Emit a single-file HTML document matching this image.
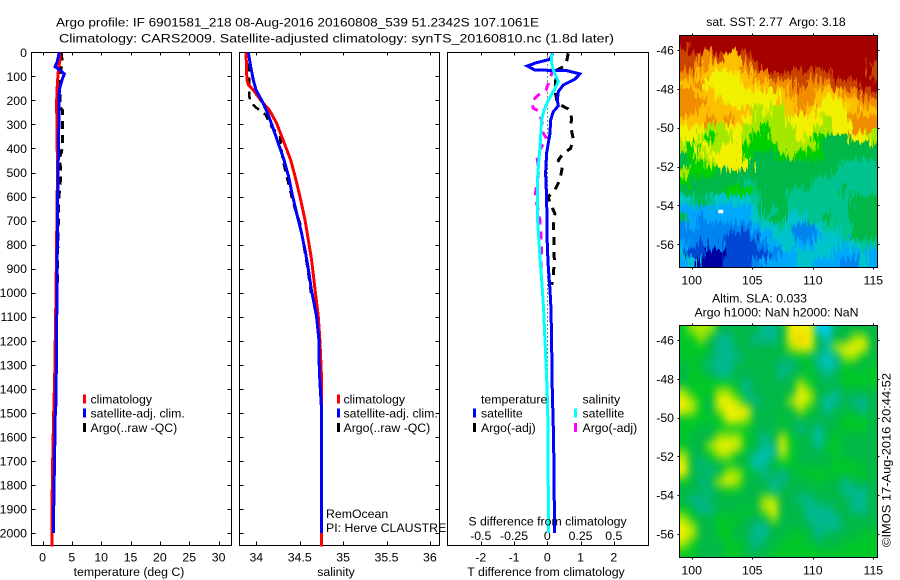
<!DOCTYPE html>
<html lang="en">
<head>
<meta charset="utf-8">
<title>Argo profile</title>
<style>
html,body{margin:0;padding:0;background:#fff;width:900px;height:580px;overflow:hidden}
svg{display:block}
text{font-family:"Liberation Sans",sans-serif;font-size:12.3px;fill:#000}
</style>
</head>
<body>
<svg id="fig" width="900" height="580" viewBox="0 0 900 580" xmlns="http://www.w3.org/2000/svg">
<defs>
<filter id="jag" x="-10%" y="-10%" width="120%" height="120%" color-interpolation-filters="sRGB">
<feTurbulence type="fractalNoise" baseFrequency="0.4 0.05" numOctaves="2" seed="4" result="n"/>
<feDisplacementMap in="SourceGraphic" in2="n" scale="22" xChannelSelector="R" yChannelSelector="G"/>
</filter>
<filter id="soft" x="-10%" y="-10%" width="120%" height="120%" color-interpolation-filters="sRGB">
<feGaussianBlur stdDeviation="4 5"/>
</filter>
<clipPath id="clipA"><rect x="679" y="35" width="198" height="232"/></clipPath>
<clipPath id="clipB"><rect x="679" y="325" width="198" height="233"/></clipPath>
</defs>
</svg>
<script>
// ---- chart data ----
const depthTicks = [0,100,200,300,400,500,600,700,800,900,1000,1100,1200,1300,1400,1500,1600,1700,1800,1900,2000];
const tempTicks = [0,5,10,15,20,25,30];
const salTicks = [34,34.5,35,35.5,36];
const salTickLabels = ['34','34.5','35','35.5','36'];
const tdiffTicks = [-2,-1,0,1,2];
const sdiffTicks = [-0.5,-0.25,0,0.25,0.5];
const sdiffTickLabels = ['-0.5','-0.25','0','0.25','0.5'];
const lonTicks = [100,105,110,115];
const latTicks = [-46,-48,-50,-52,-54,-56];

const climTempDepth = [0,32,60,87,157,200,235,490,1000,1350,1500,1700,1890,2056];
const climTempVal = [2.98,2.98,2.78,2.66,2.47,2.42,2.42,2.55,2.3,2.08,1.9,1.73,1.62,1.62];
const satTempDepth = [0,39,60,69,90,115,157,337,614,975,1320,1460,1500,1700,1900,2000];
const satTempVal = [2.87,2.5,2.13,2.7,3.72,3.32,2.87,2.76,2.58,2.47,2.35,2.3,2.18,2.05,1.9,1.84];
const argoTempDepth = [0,30,50,100,150,230,240,400,440,490,520,600,800,1000];
const argoTempVal = [3.2,3.3,3.3,2.9,3.0,3.0,3.38,3.38,2.9,3.1,3.1,2.8,2.6,2.5];

const climSalDepth = [0,115,136,157,199,240,295,378,448,531,614,697,780,864,986,1100,1200,1370,2056];
const climSalVal = [33.881,33.892,33.91,33.965,34.05,34.15,34.234,34.323,34.396,34.457,34.511,34.561,34.599,34.637,34.676,34.714,34.733,34.753,34.749];
const satSalDepth = [0,60,115,157,199,254,310,378,448,517,587,670,753,835,919,986,1100,1200,1320,1400,1470,2000];
const satSalVal = [33.908,33.935,33.965,33.996,34.061,34.131,34.188,34.253,34.319,34.372,34.411,34.465,34.522,34.568,34.607,34.634,34.695,34.722,34.726,34.737,34.749,34.752];
const argoSalDepth = [46,185,205,226,240,260,310,350,448,600,642,711,780,891,1000];
const argoSalVal = [33.92,33.92,33.935,33.985,34.035,34.108,34.175,34.273,34.304,34.407,34.438,34.503,34.534,34.588,34.63];

const satTdiffDepth = [4,29,43,57,74,75,76,90,112,136,164,199,223,247,282,337,420,503,601,711,808,892,989,1069,1200,1412,1605,2000];
const satTdiffVal = [0.16,0.08,-0.32,-0.60,-0.37,0.08,0.58,0.98,0.83,0.48,0.33,0.30,0.33,0.18,0.10,0.08,-0.02,-0.05,-0.02,-0.01,0,0.03,0.08,0.11,0.13,0.15,0.19,0.22];
const argoTdiffDepth = [4,39,60,74,157,212,236,246,275,309,358,400,420,449,473,531,573,601,629,670,725,781,864,933,968];
const argoTdiffVal = [0.63,0.58,0.48,0.28,0.23,0.30,0.63,0.68,0.73,0.70,0.78,0.70,0.48,0.33,0.46,0.38,0.23,0.03,0.08,0.23,0.18,0.20,0.21,0.18,0.13];
const satSdiffDepth = [4,46,74,122,150,199,240,282,393,476,545,698,808,905,1002,1069,1350,1480,2000];
const satSdiffVal = [0.033,0.033,0.045,0.083,0.058,0.008,-0.025,-0.043,-0.055,-0.068,-0.075,-0.073,-0.06,-0.048,-0.035,-0.028,-0.005,0.003,0.01];
const argoSdiffDepth = [67,90,157,178,205,233,243,282,337,358,393,427,490,601,670,753,822,905,1002];
const argoSdiffVal = [0.033,0.033,-0.01,-0.068,-0.118,-0.105,-0.068,-0.043,-0.03,-0.005,-0.043,-0.08,-0.063,-0.093,-0.06,-0.048,-0.043,-0.048,-0.035];

const sstLevels = [
"DDDDDDDDDDDDDDDDDDDDDD",
"RDDDDDDDDDDDDDDDDDDDDD",
"RROORAARDDDDDDDDDDDDDD",
"RROAAAAORDDDDDDDDDDDDR",
"OOAYYYYAOORRRRRRRDDDDR",
"AAOYYYYAAAOOOROOORRRDD",
"OOAAYYYYYYYAOOOAAAOORR",
"OOOAAYYYYYYAAOOAYYAAOO",
"OOAAAAAALYLLAOAYYYYAAA",
"AAAOAOAYLLLLYYYYLYYOOO",
"YYYLLYYLLGLLLYYLLYYOOO",
"YYLGLLYLGGLLLYLGgggYYL",
"LGYLLYYGGGGLLLLGgggggg",
"gGLYYYYGgggGLGGGgggggg",
"gGGLYYYYggggggggggTTTT",
"LGGGgggggggggggggTTTTT",
"GggggggTgggggggTTTTTTT",
"gggggGGGTgggTTTTTTgTTT",
"CTgTCCCCTgggTTTTTTTggg",
"SSSSSSSSCgTgTTTTTTTggg",
"gSBSSSSSCTggCCTTgTTggg",
"BSBBBBBBSCCTCBBCTTTggg",
"BBBBBNNNBSCCCBBSCCTggg",
"SBNBBNNNNBSCCSSCCCSCTT",
"CNNVVNNNNNBSSCCCCSSSCS",
"SCVVVNNNBSSSSCCSSSBBCS"
];
const slaLevels = [
"GLLLgggggTTgYYYSSggggg",
"GGLgTTggTTTgYAYgCggLLg",
"GGGgTTggggggLYYgTLYYYg",
"GGGgTTTggggggGgTCTLLGg",
"gGgTTTgggggTTgGTCTGggG",
"gGGgTTgggggTggGgTgGGGG",
"gGGGGGgTgggggLGgggGGGG",
"LGGGLLGTgggggYLggTgggg",
"YLGgYYLgTgggLYLgCTgTTg",
"YLGgLYYYgggggLGgTgggTg",
"GGGGGYYLgggGggggggGGGg",
"GGggGGGGgggggTgTggGGGg",
"GgggLLLGgTgLGggCgGgggg",
"GggLYYYGgTTYGggTGGgggg",
"LggGLLGgTCTLGggggGgggg",
"YgTggGggCTgGGggggGGGgg",
"YggTgLLGgTgTgGGGGGGGGg",
"GgTgLYLgggTTgggGggTggg",
"gggTgGGgggTgggggggTTTg",
"gTTggggggLLggTTggggTTg",
"GgTTgggGgLYgggTTTggTTg",
"LGggGGGgggLgggTTTTgggg",
"YLggGGggTTgggggTTTgggg",
"YLggGGggTTggGGgTggggGG",
"LGgggGGgTggGGGGgggGGGG",
"GGgggGGgggGGGGGGGGGGGG"
];
const profileLon = [102.4];
const profileLat = [-54.3];

// ---- colour keys ----
const sstColors = {D:'#a40000',R:'#c84400',O:'#f08c00',A:'#fcc000',Y:'#f0f000',L:'#a4e800',G:'#00d000',g:'#00b848',T:'#00c490',C:'#00c4cc',S:'#00a8fc',B:'#0084f0',N:'#0048d4',V:'#0000a0'};
const slaColors = {g:'#00b848',G:'#00c828',T:'#00b890',C:'#00c4c0',S:'#00c8f0',L:'#a4e800',Y:'#f0f000',A:'#f8c800'};

// ---- axis functions ----
const depthY = d => 52.3 + 0.2404 * d;
const tempX = t => 42.5 + 5.87 * t;
const salX = s => 256.3 + 86.8 * (s - 34);
const tdiffX = t => 547.3 + 33.25 * t;
const sdiffX = s => 547.3 + 133 * s;
const mapX = lon => 691.7 + 12.11 * (lon - 100);
const latYA = lat => 50 - 19.43 * (lat + 46);
const latYB = lat => 340 - 19.4 * (lat + 46);

const root = document.getElementById('fig');
const NS = 'http://www.w3.org/2000/svg';
function make(tag, attrs, parent){
  const el = document.createElementNS(NS, tag);
  for (const k in attrs) el.setAttribute(k, attrs[k]);
  (parent || root).appendChild(el);
  return el;
}
function label(str, x, y, anchor, parent){
  const el = make('text', {x:x, y:y + 4.5, 'text-anchor':anchor || 'start'}, parent);
  el.textContent = str;
  return el;
}
function seg(x1,y1,x2,y2,parent){
  return make('line',{x1:x1,y1:y1,x2:x2,y2:y2,stroke:'#000','stroke-width':1,'shape-rendering':'crispEdges'},parent);
}
function series(depths, vals, xf, color, width, dash, parent){
  const pts = depths.map((d,i)=>xf(vals[i]).toFixed(1)+','+depthY(d).toFixed(1)).join(' ');
  const attrs = {points:pts, fill:'none', stroke:color, 'stroke-width':width, 'stroke-linejoin':'miter', 'shape-rendering':'crispEdges'};
  if (dash) attrs['stroke-dasharray'] = dash;
  return make('polyline', attrs, parent);
}
function legendMark(x, y, color, parent){
  return make('rect',{x:x,y:y-4.5,width:3,height:9,fill:color},parent);
}

const T = 52.5, B = 545.5;

function frame(x0, x1, parent){
  const box = make('rect',{x:x0,y:T,width:x1-x0,height:B-T,fill:'none',stroke:'#000','stroke-width':1,'shape-rendering':'crispEdges'},parent);
  
  
}

// ---- panel 1: temperature ----
const p1 = make('g',{});


frame(31.5,231.5,p1);
depthTicks.forEach(d=>{
  const y = Math.round(depthY(d))+0.5;
  const a = seg(31.5,y,35.5,y,p1);
  
  
  const b = seg(227.5,y,231.5,y,p1);
  
  
  const t = label(String(d),27,depthY(d),'end',p1);
  
  
});
tempTicks.forEach(v=>{
  const x = Math.round(tempX(v))+0.5;
  const a = seg(x,B,x,B-4,p1);
  
  
  const b = seg(x,T,x,T+3,p1);
  
  
  const t = label(String(v),tempX(v),557,'middle',p1);
  
  
});
const s1a = series(argoTempDepth,argoTempVal,tempX,'#000',3,'8 6',p1);


const s1b = series(climTempDepth,climTempVal,tempX,'#f00',3,null,p1);


const s1c = series(satTempDepth,satTempVal,tempX,'#00f',3,null,p1);


const x1 = label('temperature (deg C)',129,571.5,'middle',p1);



// ---- panel 2: salinity ----
const p2 = make('g',{});


frame(239.5,439.5,p2);
depthTicks.forEach(d=>{
  const y = Math.round(depthY(d))+0.5;
  const a = seg(239.5,y,243.5,y,p2);
  
  
  const b = seg(435.5,y,439.5,y,p2);
  
  
});
salTicks.forEach((v,i)=>{
  const x = Math.round(salX(v))+0.5;
  const a = seg(x,B,x,B-4,p2);
  
  
  const b = seg(x,T,x,T+3,p2);
  
  
  const t = label(salTickLabels[i],salX(v),557,'middle',p2);
  
  
});
const s2a = series(argoSalDepth,argoSalVal,salX,'#000',2.5,'8 6',p2);


const s2b = series(climSalDepth,climSalVal,salX,'#f00',3,null,p2);


const s2c = series(satSalDepth,satSalVal,salX,'#00f',3,null,p2);


const x2 = label('salinity',336,571.5,'middle',p2);



// ---- panel 3: differences ----
const p3 = make('g',{});


frame(447.5,648.5,p3);
tdiffTicks.forEach(v=>{
  const x = Math.round(tdiffX(v))+0.5;
  const a = seg(x,B,x,B-4,p3);
  
  
  const t = label(String(v),tdiffX(v),557,'middle',p3);
  
  
});
sdiffTicks.forEach((v,i)=>{
  const x = Math.round(sdiffX(v))+0.5;
  const b = seg(x,T,x,T+3,p3);
  
  
  const t = label(sdiffTickLabels[i],sdiffX(v),535.5,'middle',p3);
  
  
});
const zero = make('line',{x1:tdiffX(0)+0.2,y1:T,x2:tdiffX(0)+0.2,y2:depthY(2000),stroke:'#000','stroke-width':1,'stroke-dasharray':'1 3','shape-rendering':'crispEdges'},p3);


const s3a = series(argoTdiffDepth,argoTdiffVal,tdiffX,'#000',3,'8 7',p3);


const s3b = series(argoSdiffDepth,argoSdiffVal,sdiffX,'#f0f',3,'8 7',p3);


const s3c = series(satTdiffDepth,satTdiffVal,tdiffX,'#00f',3,null,p3);


const s3d = series(satSdiffDepth,satSdiffVal,sdiffX,'#0ff',3,null,p3);


const sTitle = label('S difference from climatology',547.5,521,'middle',p3);


const tTitle = label('T difference from climatology',546,571.5,'middle',p3);



// ---- maps ----
function heatmap(levels, colors, x0, y0, w, h, parent, cellName){
  const nr = levels.length, nc = levels[0].length;
  const cw = w / nc, ch = h / nr;
  levels.forEach((row,r)=>{
    for (let c=0;c<nc;c++){
      let x = x0 + c*cw, y = y0 + r*ch, ww = cw + 0.6, hh = ch + 0.6;
      if (c===0){ x -= 24; ww += 24; }
      if (c===nc-1){ ww += 24; }
      if (r===0){ y -= 24; hh += 24; }
      if (r===nr-1){ hh += 24; }
      const cell = make('rect',{x:x.toFixed(2),y:y.toFixed(2),width:ww.toFixed(2),height:hh.toFixed(2),fill:colors[row[c]]},parent);
      
      
    }
  });
}
function mapAxes(parent, x0, y0, x1, y1, latY, labelY){
  const box = make('rect',{x:x0,y:y0,width:x1-x0,height:y1-y0,fill:'none',stroke:'#000','stroke-width':1,'shape-rendering':'crispEdges'},parent);
  
  
  lonTicks.forEach(v=>{
    const x = Math.round(mapX(v))+0.5;
    const a = seg(x,y1,x,y1+2,parent);
    
    
    const b = seg(x,y0,x,y0-2,parent);
    
    
    const t = label(String(v),mapX(v),labelY,'middle',parent);
    
    
  });
  latTicks.forEach(v=>{
    const y = Math.round(latY(v))+0.5;
    const a = seg(x0,y,x0-2,y,parent);
    
    
    const b = seg(x1,y,x1+2,y,parent);
    
    
    const t = label(String(v),674,latY(v),'end',parent);
    
    
  });
}

const mapA = make('g',{});


const clipA = make('g',{'clip-path':'url(#clipA)'},mapA);
const fieldA = make('g',{filter:'url(#jag)'},clipA);
heatmap(sstLevels,sstColors,679,35,198,232,fieldA,'sst-cell');
profileLon.forEach((lon,i)=>{
  const m = make('rect',{x:mapX(lon)-2.5,y:latYA(profileLat[i])-1.5,width:5,height:3.5,fill:'#fff'},clipA);
  
  
});
mapAxes(mapA,679.5,35.5,877.5,267.5,latYA,280);
const tA = label('sat. SST: 2.77  Argo: 3.18',776,21.5,'middle',mapA);


tA.style.whiteSpace = 'pre';

const mapB = make('g',{});


const clipB = make('g',{'clip-path':'url(#clipB)'},mapB);
const fieldB = make('g',{filter:'url(#soft)'},clipB);
heatmap(slaLevels,slaColors,679,325,198,233,fieldB,'sla-cell');
mapAxes(mapB,679.5,325.5,877.5,557.5,latYB,570);
const tB1 = label('Altim. SLA: 0.033',759.5,298,'middle',mapB);


const tB2 = label('Argo h1000: NaN h2000: NaN',776.5,312,'middle',mapB);



// ---- legends ----
function legendRow(x, tx, y, color, str, parent){
  if (color){
    const m = legendMark(x,y,color,parent);
    
    
  }
  const t = label(str,tx,y,'start',parent);
  
  
}
const lg1 = make('g',{});


legendRow(83,90.5,399,'#f00','climatology',lg1);
legendRow(83,90.5,413,'#00f','satellite-adj. clim.',lg1);
legendRow(83,90.5,427.5,'#000','Argo(..raw -QC)',lg1);
const lg2 = make('g',{});


legendRow(337,343.5,399,'#f00','climatology',lg2);
legendRow(337,343.5,413,'#00f','satellite-adj. clim.',lg2);
legendRow(337,343.5,427.5,'#000','Argo(..raw -QC)',lg2);
const lg3 = make('g',{});


legendRow(473,481,399,null,'temperature',lg3);
legendRow(473,481,413,'#00f','satellite',lg3);
legendRow(473,481,427.5,'#000','Argo(-adj)',lg3);
legendRow(574,582.5,399,null,'salinity',lg3);
legendRow(574,582.5,413,'#0ff','satellite',lg3);
legendRow(574,582.5,427.5,'#f0f','Argo(-adj)',lg3);

// ---- annotations ----
const t1 = label('Argo profile: IF 6901581_218 08-Aug-2016 20160808_539 51.2342S 107.1061E',56,22,'start');


t1.setAttribute('textLength','483');
t1.setAttribute('lengthAdjust','spacingAndGlyphs');
const t2 = label('Climatology: CARS2009. Satellite-adjusted climatology: synTS_20160810.nc (1.8d later)',59,38,'start');


t2.setAttribute('textLength','555');
t2.setAttribute('lengthAdjust','spacingAndGlyphs');
const rem1 = label('RemOcean',326,513.5,'start');


const rem2 = label('PI: Herve CLAUSTRE',326,527.5,'start');


const stamp = make('text',{x:0,y:0,transform:'translate(890.5,547) rotate(-90)',textLength:174,lengthAdjust:'spacingAndGlyphs'});
stamp.textContent = '©IMOS 17-Aug-2016 20:44:52';


</script>
</body>
</html>
